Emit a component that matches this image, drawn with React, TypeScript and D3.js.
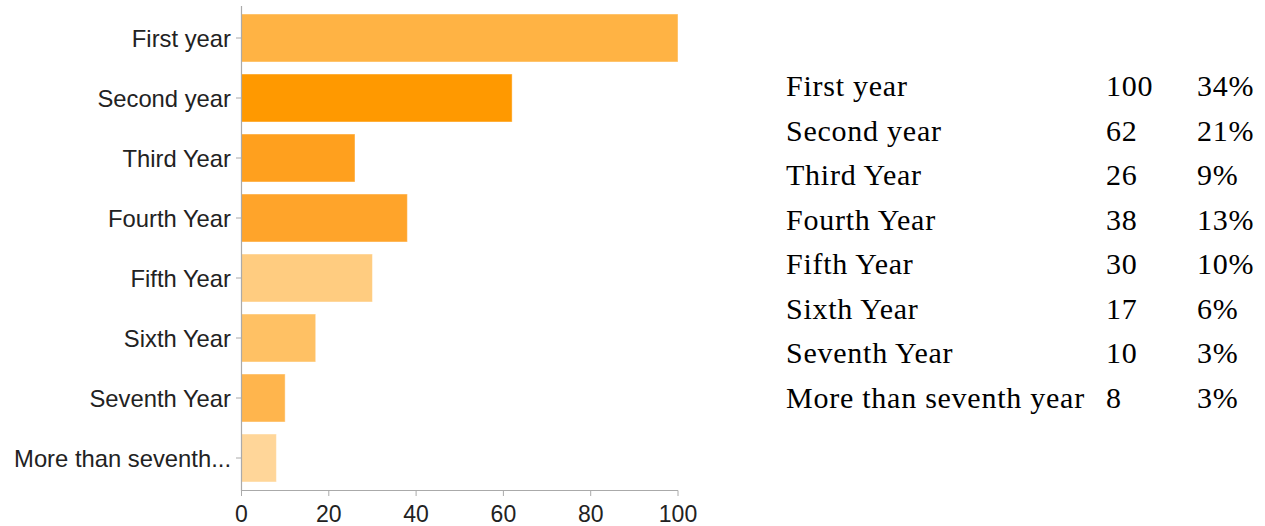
import React from "react";
import * as d3 from "d3";

const categories = [
  "First year",
  "Second year",
  "Third Year",
  "Fourth Year",
  "Fifth Year",
  "Sixth Year",
  "Seventh Year",
  "More than seventh year",
];
const axisLabels = [
  "First year",
  "Second year",
  "Third Year",
  "Fourth Year",
  "Fifth Year",
  "Sixth Year",
  "Seventh Year",
  "More than seventh...",
];
const counts = [100, 62, 26, 38, 30, 17, 10, 8];
const percents = ["34%", "21%", "9%", "13%", "10%", "6%", "3%", "3%"];
const barColors = [
  "#ffb344",
  "#ff9900",
  "#ffa01e",
  "#ffa42a",
  "#ffcc80",
  "#ffc164",
  "#ffb54d",
  "#ffd699",
];
const xTicks = [0, 20, 40, 60, 80, 100];

export default function App() {
  const W = 1265;
  const H = 526;
  const x = d3.scaleLinear().domain([0, 100]).range([241.5, 678]);
  const y = d3
    .scaleBand<string>()
    .domain(categories)
    .range([8, 488])
    .paddingInner(0.2)
    .paddingOuter(0.1);
  const rowY = d3
    .scalePoint<string>()
    .domain(categories)
    .range([96, 408]);
  const sans = "'Liberation Sans', Arial, Helvetica, sans-serif";
  const serif = "'Liberation Serif', 'Times New Roman', serif";
  return (
    <svg
      width={W}
      height={H}
      style={{ position: "absolute", left: 0, top: 0, background: "#fff" }}
    >
      {categories.map((c, i) => (
        <rect
          key={c}
          x={x(0)}
          y={y(c)!}
          width={x(counts[i]) - x(0)}
          height={y.bandwidth()}
          fill={barColors[i]}
          stroke="#fff"
          strokeOpacity={0.45}
          strokeWidth={1}
        />
      ))}
      <line x1={x(0)} x2={x(0)} y1={6} y2={491} stroke="#aaa" strokeWidth={1.2} />
      <line x1={x(0)} x2={x(100)} y1={490.5} y2={490.5} stroke="#aaa" strokeWidth={1} />
      {categories.map((c, i) => {
        const cy = y(c)! + y.bandwidth() / 2;
        return (
          <g key={c}>
            <line x1={x(0) - 5.5} x2={x(0)} y1={cy} y2={cy} stroke="#aaa" />
            <text
              x={231}
              y={cy + 8.8}
              textAnchor="end"
              fontFamily={sans}
              fontSize={23.8}
              fill="#222"
            >
              {axisLabels[i]}
            </text>
          </g>
        );
      })}
      {xTicks.map((t) => (
        <g key={t}>
          <line x1={x(t)} x2={x(t)} y1={490.5} y2={496} stroke="#aaa" />
          <text
            x={x(t)}
            y={521.5}
            textAnchor="middle"
            fontFamily={sans}
            fontSize={23}
            fill="#222"
          >
            {t}
          </text>
        </g>
      ))}
      {categories.map((c, i) => (
        <g
          key={"row" + c}
          fontFamily={serif}
          fontSize={30}
          letterSpacing={0.75}
          fill="#000"
        >
          <text x={786} y={rowY(c)!}>
            {c}
          </text>
          <text x={1106} y={rowY(c)!}>
            {counts[i]}
          </text>
          <text x={1197} y={rowY(c)!}>
            {percents[i]}
          </text>
        </g>
      ))}
    </svg>
  );
}
